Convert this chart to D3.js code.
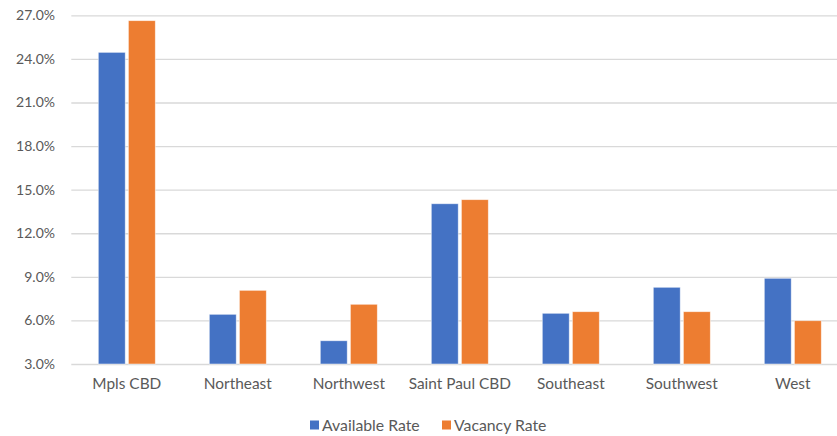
<!DOCTYPE html>
<html>
<head>
<meta charset="utf-8">
<script src="https://cdn.jsdelivr.net/npm/d3@7"></script>
<style>
  html, body { margin: 0; padding: 0; background: #ffffff; }
  svg { display: block; }
  text { font-family: Lato, "Open Sans", sans-serif; fill: #595959; }
</style>
</head>
<body>
<svg id="chart" width="837" height="436"></svg>
<script>
// Submarket rates (percent)
const submarkets = ["Mpls CBD", "Northeast", "Northwest", "Saint Paul CBD", "Southeast", "Southwest", "West"];
const availableRate = [24.45, 6.42, 4.6, 14.03, 6.49, 8.28, 8.9];
const vacancyRate   = [26.63, 8.07, 7.11, 14.31, 6.6, 6.6, 5.98];
const seriesNames = ["Available Rate", "Vacancy Rate"];
const seriesColors = ["#4472C4", "#ED7D31"];
const yTicks = [3, 6, 9, 12, 15, 18, 21, 24, 27];

const svg = d3.select("#chart");

const plotLeft = 71.3, bandStep = 111;
const x = d3.scaleBand()
  .domain(submarkets)
  .range([plotLeft, plotLeft + bandStep * submarkets.length])
  .paddingInner(0).paddingOuter(0);

const y = d3.scaleLinear().domain([3, 27]).range([364, 15.3]);

// Horizontal gridlines
const grid = d3.axisLeft(y).tickValues(yTicks).tickSize(-(837 - plotLeft)).tickFormat("");
svg.append("g")
  .attr("transform", `translate(${plotLeft},0)`)
  .call(grid)
  .call(g => g.select(".domain").remove())
  .call(g => g.selectAll("line").attr("stroke", "#D9D9D9").attr("stroke-width", 1.3));

// Y tick labels
const yAxis = d3.axisLeft(y).tickValues(yTicks).tickSize(0).tickPadding(0)
  .tickFormat(d => d3.format(".1f")(d) + "%");
svg.append("g")
  .attr("transform", "translate(55,0)")
  .call(yAxis)
  .call(g => g.select(".domain").remove())
  .call(g => g.selectAll("text").attr("font-size", 14).attr("fill", "#595959"));

// Bars, grouped per submarket
const inner = d3.scaleBand().domain(seriesNames).range([-28.5, 28.5]).paddingInner(0.105);
const rows = submarkets.map((s, i) => ({ s, vals: [availableRate[i], vacancyRate[i]] }));

svg.append("g").selectAll("g")
  .data(rows)
  .join("g")
  .attr("transform", d => `translate(${x(d.s) + x.bandwidth() / 2},0)`)
  .selectAll("rect")
  .data(d => d.vals.map((v, j) => ({ v, name: seriesNames[j], color: seriesColors[j] })))
  .join("rect")
  .attr("x", d => inner(d.name))
  .attr("width", inner.bandwidth())
  .attr("y", d => y(d.v))
  .attr("height", d => y(3) - y(d.v))
  .attr("fill", d => d.color)
  .attr("stroke", "#ffffff")
  .attr("stroke-opacity", 0.6)
  .attr("stroke-width", 0.8);

// Category labels
const xAxis = d3.axisBottom(x).tickSize(0).tickPadding(0);
svg.append("g")
  .attr("transform", "translate(0,378.5)")
  .call(xAxis)
  .call(g => g.select(".domain").remove())
  .call(g => g.selectAll("text").attr("font-size", 15.4).attr("fill", "#595959").attr("dy", "0.71em"));

// Legend
const legendX = [310, 442];
const legend = svg.append("g").selectAll("g")
  .data(seriesNames)
  .join("g")
  .attr("transform", (d, i) => `translate(${legendX[i]},420.5)`);
legend.append("rect")
  .attr("width", 9).attr("height", 9)
  .attr("fill", (d, i) => seriesColors[i]);
legend.append("text")
  .attr("x", 12).attr("y", 4.5)
  .attr("dy", "0.35em")
  .attr("font-size", 15.8)
  .attr("fill", "#595959")
  .text(d => d);
</script>
</body>
</html>
